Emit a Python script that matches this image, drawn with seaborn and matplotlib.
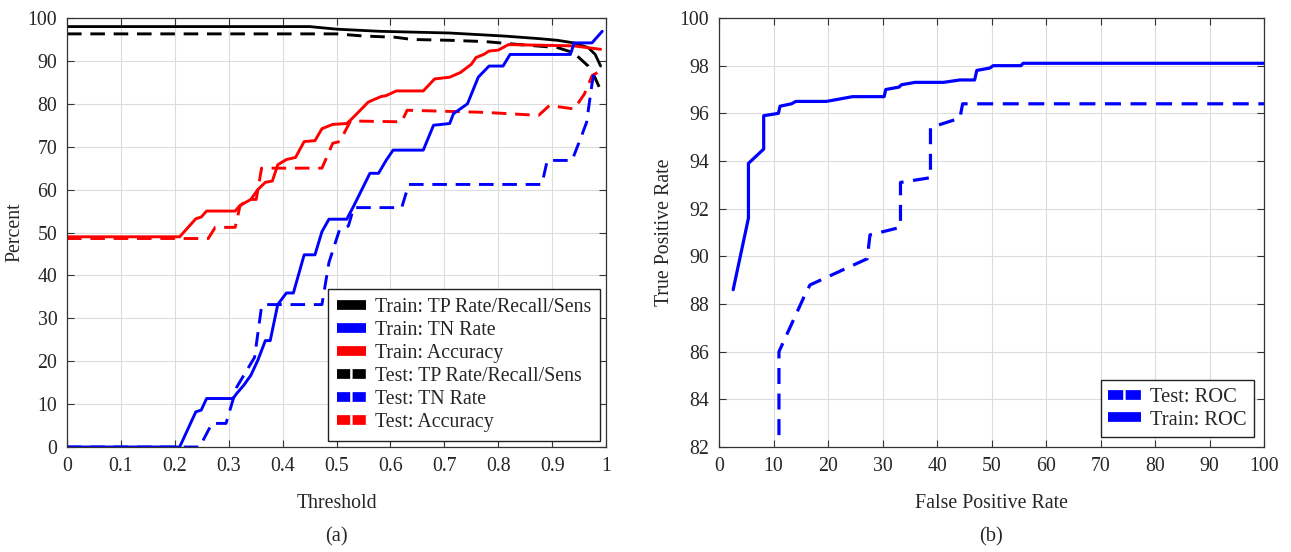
import numpy as np
import pandas as pd
import matplotlib
matplotlib.use("Agg")
import matplotlib.pyplot as plt
from matplotlib.lines import Line2D
import seaborn as sns

# ---------------- data ----------------
train_tp_t = [0, 0.45, 0.50, 0.58, 0.71, 0.81, 0.875, 0.91, 0.94, 0.967, 0.98, 0.99]
train_tp_v = [98, 98, 97.4, 96.9, 96.5, 95.8, 95.2, 94.8, 94.2, 93.1, 91.5, 88.8]

test_tp_t = [0, 0.50, 0.55, 0.61, 0.64, 0.71, 0.776, 0.84, 0.91, 0.94, 0.967, 0.98, 0.993]
test_tp_v = [96.3, 96.3, 95.8, 95.5, 95.0, 94.8, 94.5, 93.8, 93.1, 91.9, 88.8, 86.0, 82.3]

train_acc_t = [0, 0.209, 0.239, 0.249, 0.259, 0.312, 0.321, 0.341, 0.354, 0.368, 0.381,
               0.391, 0.407, 0.424, 0.44, 0.46, 0.473, 0.493, 0.519, 0.526, 0.559, 0.566,
               0.583, 0.592, 0.611, 0.661, 0.682, 0.71, 0.73, 0.75, 0.759, 0.773, 0.783,
               0.80, 0.819, 0.94, 0.99]
train_acc_v = [49, 49, 53.2, 53.6, 55, 55, 56.3, 57.7, 60, 61.7, 62,
               65.8, 67, 67.5, 71.2, 71.4, 74.2, 75.2, 75.4, 76.2, 80.4, 80.8,
               81.7, 81.9, 83, 83, 85.8, 86.2, 87.3, 89.2, 90.8, 91.5, 92.3,
               92.5, 93.8, 93.5, 92.7]

train_tn_t = [0, 0.209, 0.239, 0.249, 0.259, 0.308, 0.315, 0.328, 0.341, 0.354, 0.368,
              0.377, 0.391, 0.407, 0.42, 0.44, 0.46, 0.473, 0.486, 0.519, 0.532, 0.562,
              0.578, 0.592, 0.605, 0.661, 0.68, 0.71, 0.717, 0.743, 0.763, 0.783, 0.809,
              0.822, 0.934, 0.941, 0.974, 0.993]
train_tn_v = [0, 0, 8.2, 8.6, 11.3, 11.3, 12.5, 14.4, 16.7, 20.2, 24.8,
              24.8, 33.2, 35.9, 35.9, 44.8, 44.8, 50.2, 53.1, 53.1, 56.2, 63.8,
              63.8, 66.8, 69.2, 69.2, 75.0, 75.4, 77.7, 80.0, 86.2, 88.8, 88.8,
              91.5, 91.5, 94.2, 94.2, 96.9]

test_tn_t = [0, 0.246, 0.269, 0.295, 0.315, 0.328, 0.348, 0.361, 0.368, 0.473, 0.486,
             0.506, 0.522, 0.532, 0.621, 0.634, 0.881, 0.891, 0.937, 0.954, 0.964,
             0.974, 0.98]
test_tn_v = [0, 0, 5.5, 5.5, 14, 16.7, 20.9, 32.8, 33.2, 33.2, 43,
             50.8, 51.5, 55.8, 55.8, 61.2, 61.2, 66.8, 66.8, 72.3, 75.7,
             84.6, 88.5]

test_acc_t = [0, 0.262, 0.275, 0.312, 0.321, 0.335, 0.351, 0.361, 0.473, 0.493, 0.506,
              0.526, 0.621, 0.631, 0.776, 0.875, 0.895, 0.941, 0.96, 0.974, 0.984]
test_acc_v = [48.6, 48.6, 51.2, 51.2, 56.2, 57.7, 57.7, 65, 65, 70.8, 71.2,
              76, 75.8, 78.5, 78, 77.3, 79.6, 78.8, 82.3, 86.5, 87.3]

roc_train_fpr = [2.6, 5.4, 5.4, 8.2, 8.2, 10.9, 11.2, 13.3, 14.1, 19.7, 24.5, 30.3, 30.6,
                 33.0, 33.5, 36.0, 41.2, 44.2, 46.9, 47.3, 49.7, 50.3, 55.4, 55.8, 100]
roc_train_tpr = [88.6, 91.6, 93.9, 94.5, 95.9, 96.0, 96.3, 96.4, 96.5, 96.5, 96.7, 96.7, 97.0,
                 97.1, 97.2, 97.3, 97.3, 97.4, 97.4, 97.8, 97.9, 98.0, 98.0, 98.1, 98.1]

roc_test_fpr = [11.0, 11.0, 15.6, 16.7, 27.2, 27.7, 33.0, 33.3, 33.3, 38.8, 38.8, 44.2, 44.7, 100]
roc_test_tpr = [82.5, 86.0, 88.3, 88.8, 89.9, 90.9, 91.2, 91.3, 93.1, 93.3, 95.4, 95.8, 96.4, 96.4]

left_labels = ["Train: TP Rate/Recall/Sens", "Train: TN Rate", "Train: Accuracy",
               "Test: TP Rate/Recall/Sens", "Test: TN Rate", "Test: Accuracy"]
right_labels = ["Test: ROC", "Train: ROC"]

# ---------------- style ----------------
sns.set_style("whitegrid", {"grid.color": "#dcdcdc", "axes.edgecolor": "#333333"})
plt.rcParams["font.family"] = ["Liberation Serif", "DejaVu Serif"]

FS = 14.3
BLUE = "#0000ff"
RED = "#ff0000"
BLACK = "#000000"
DASH = (0, (5, 3))

fig = plt.figure(figsize=(12.91, 5.52), dpi=100)
ax1 = fig.add_axes([67 / 1291, 1 - 447 / 552, 539 / 1291, 429 / 552])
ax2 = fig.add_axes([719 / 1291, 1 - 447 / 552, 545 / 1291, 429 / 552])


def draw(ax, x, y, color, ls, lw):
    df = pd.DataFrame({"x": x, "y": y})
    sns.lineplot(data=df, x="x", y="y", ax=ax, color=color, linestyle=ls, linewidth=lw,
                 estimator=None, sort=False, legend=False)


# left panel
draw(ax1, train_tp_t, train_tp_v, BLACK, "-", 2.0)
draw(ax1, test_tp_t, test_tp_v, BLACK, DASH, 2.1)
draw(ax1, test_acc_t, test_acc_v, RED, DASH, 2.1)
draw(ax1, test_tn_t, test_tn_v, BLUE, DASH, 2.1)
draw(ax1, train_acc_t, train_acc_v, RED, "-", 2.1)
draw(ax1, train_tn_t, train_tn_v, BLUE, "-", 2.1)

# right panel
draw(ax2, roc_test_fpr, roc_test_tpr, BLUE, DASH, 2.3)
draw(ax2, roc_train_fpr, roc_train_tpr, BLUE, "-", 2.3)

ax1.set_xlim(0, 1)
ax1.set_ylim(0, 100)
ax1.set_xticks(np.arange(0, 1.01, 0.1))
ax1.set_xticklabels(["0"] + [f"{v:.1f}" for v in np.arange(0.1, 0.95, 0.1)] + ["1"])
ax1.set_yticks(np.arange(0, 101, 10))
ax1.set_xlabel("Threshold", fontsize=FS, labelpad=13)
ax1.set_ylabel("Percent", fontsize=FS, labelpad=2)

ax2.set_xlim(0, 100)
ax2.set_ylim(82, 100)
ax2.set_xticks(np.arange(0, 101, 10))
ax2.set_yticks(np.arange(82, 101, 2))
ax2.set_xlabel("False Positive Rate", fontsize=FS, labelpad=13)
ax2.set_ylabel("True Positive Rate", fontsize=FS, labelpad=4)

for ax in (ax1, ax2):
    ax.tick_params(direction="in", length=5, width=0.8, color="#333333",
                   labelsize=FS, pad=7, top=True, right=True, bottom=True, left=True)
    ax.grid(True, color="#dcdcdc", linewidth=0.8)
    for s in ax.spines.values():
        s.set_linewidth(0.9)
        s.set_color("#333333")

# legends
HLW = 7.0


def handle(color, dashed, length_pt):
    if dashed:
        gap = 0.25
        dash = (length_pt / HLW - gap) / 2.0
        return Line2D([0], [0], color=color, lw=HLW, linestyle=(0, (dash, gap)),
                      dash_capstyle="butt", solid_capstyle="butt")
    return Line2D([0], [0], color=color, lw=HLW, solid_capstyle="butt")


HL1 = 1.45
L1 = HL1 * FS
h1 = [handle(BLACK, False, L1), handle(BLUE, False, L1), handle(RED, False, L1),
      handle(BLACK, True, L1), handle(BLUE, True, L1), handle(RED, True, L1)]
leg1 = ax1.legend(h1, left_labels, loc="lower right", fontsize=FS, frameon=True,
                  fancybox=False, edgecolor="#222222", framealpha=1,
                  handlelength=HL1, handletextpad=0.45, labelspacing=0.2,
                  borderaxespad=0.3, borderpad=0.45)
leg1.get_frame().set_linewidth(1.0)

FS2 = FS + 0.5
HL2 = 1.6
L2 = HL2 * FS2
h2 = [handle(BLUE, True, L2), handle(BLUE, False, L2)]
leg2 = ax2.legend(h2, right_labels, loc="lower right", fontsize=FS2, frameon=True,
                  fancybox=False, edgecolor="#222222", framealpha=1,
                  handlelength=HL2, handletextpad=0.45, labelspacing=0.15,
                  borderaxespad=0.5, borderpad=0.35)
leg2.get_frame().set_linewidth(1.0)

fig.text((67 + 606) / 2 / 1291, 1 - 537 / 552, "(a)", ha="center", va="center", fontsize=FS + 0.5)
fig.text((719 + 1264) / 2 / 1291, 1 - 537 / 552, "(b)", ha="center", va="center", fontsize=FS + 0.5)

fig.savefig("out.png", dpi=100)
